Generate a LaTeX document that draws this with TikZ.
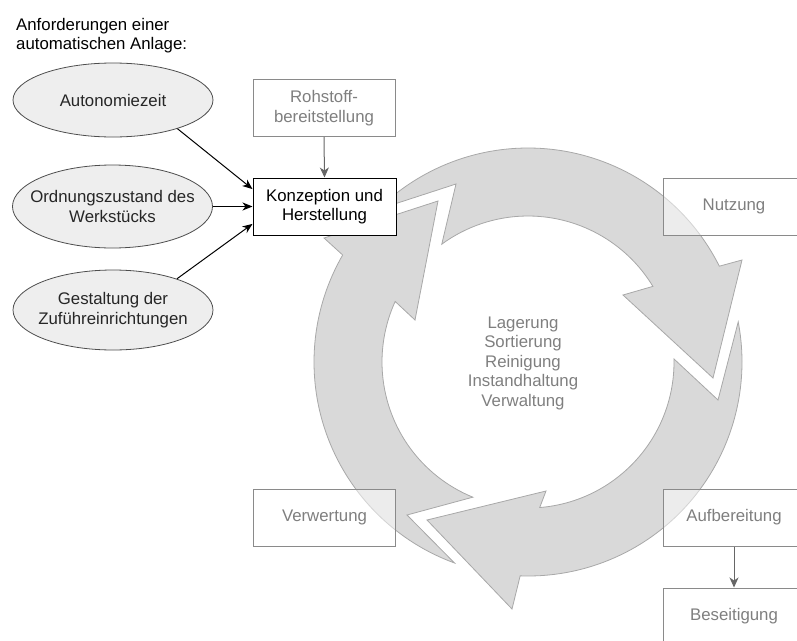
\documentclass[tikz,border=0pt]{standalone}
\usepackage{fontspec}
\setmainfont{Liberation Sans}
\usetikzlibrary{arrows.meta,shapes.geometric,calc}

\definecolor{ringfill}{HTML}{D9D9D9}
\definecolor{ringline}{HTML}{A8A8A8}
\definecolor{boxline}{HTML}{8A8A8A}
\definecolor{boxtext}{HTML}{7F7F7F}
\definecolor{reqfill}{HTML}{EEEEEE}
\definecolor{reqline}{HTML}{4D4D4D}
\definecolor{flowgray}{HTML}{666666}

\begin{document}
\begin{tikzpicture}[x=1pt,y=1pt,yscale=-1,
  font=\fontsize{16.8}{19.5}\selectfont,
  ring/.style={fill=ringfill, draw=ringline, line width=0.8pt, line join=miter},
  stage/.style={draw=boxline, line width=1pt, fill=white, fill opacity=0.5,
    text opacity=1, text=boxtext, minimum width=142pt, minimum height=57pt,
    inner sep=0pt, align=center},
  mainbox/.style={draw=black, line width=1pt, fill=white, minimum width=143pt,
    minimum height=57pt, inner sep=0pt, align=center},
  req/.style={ellipse, draw=reqline, line width=0.8pt, fill=reqfill,
    minimum width=200pt, minimum height=80pt, inner sep=0pt},
  reqtext/.style={align=center, inner sep=0pt, text=black!85},
  influence/.style={draw=black, line width=1pt,
    -{Stealth[length=10pt,width=8pt,inset=3pt]}},
  flow/.style={draw=flowgray, line width=1pt,
    -{Stealth[length=10pt,width=9pt,inset=3pt]}}
]
\useasboundingbox (0,0) rectangle (797,640);

% ---------- circular life cycle (three curved arrows) ----------
\coordinate (C) at (528,362);
% top arrow: Konzeption -> Nutzung
\path[ring] ($(C)+(-134.5:214)$) arc[start angle=-134.5, end angle=-26.6, radius=214]
  -- (742,260) -- (713,378) -- (623,295) -- ($(C)+(-31.2:146)$)
  arc[start angle=-31.2, end angle=-126.2, radius=146] -- (456,184) -- cycle;
% right/bottom arrow: Nutzung -> Verwertung
\path[ring] ($(C)+(-10.8:214)$) arc[start angle=-10.8, end angle=92.1, radius=214]
  -- (512,609) -- (427,520) -- (546,491) -- ($(C)+(85.4:146)$)
  arc[start angle=85.4, end angle=-1.2, radius=146] -- (718,400) -- cycle;
% left arrow: Verwertung -> Konzeption
\path[ring] ($(C)+(110.1:214)$) arc[start angle=110.1, end angle=210, radius=214]
  -- (324,238) -- (438,201) -- (415,320) -- ($(C)+(204.5:146)$)
  arc[start angle=204.5, end angle=112.2, radius=146] -- (407,515) -- cycle;

% ---------- activities inside the cycle ----------
\node[align=center, text=boxtext, inner sep=0pt] (care) at (523,363)
  {Lagerung\\Sortierung\\Reinigung\\Instandhaltung\\Verwaltung};

% ---------- life cycle stages ----------
\node[stage] (raw) at (324,108) {Rohstoff-\\bereitstellung};
\node[stage] (use) at (734,206.5) {Nutzung};
\node[stage] (recycle) at (324.5,517.5) {Verwertung};
\node[stage] (prep) at (734,517.5) {Aufbereitung};
\node[stage] (dispose) at (734,616.5) {Beseitigung};
\node[mainbox] (design) at (324.5,206.5) {Konzeption und\\Herstellung};

\draw[flow] (raw.south) -- (design.north);
\draw[flow] (prep.south) -- (dispose.north);

% ---------- requirements of an automatic plant ----------
\node[anchor=north west, align=left, inner sep=0pt] (title) at (16,18)
  {Anforderungen einer\\automatischen Anlage:};

\node[req, minimum height=74pt, label={[reqtext]center:Autonomiezeit}] (auto) at (113,100) {};
\node[req, minimum height=83pt, label={[reqtext]center:Ordnungszustand des\\Werkstücks}] (order) at (112.5,206.5) {};
\node[req, label={[reqtext]center:Gestaltung der\\Zuführeinrichtungen}] (feed) at (113,310) {};

\draw[influence] (auto.-24) -- ($(design.north west)!0.2!(design.south west)$);
\draw[influence] (order.east) -- (design.west);
\draw[influence] (feed.26) -- ($(design.north west)!0.8!(design.south west)$);
\end{tikzpicture}
\end{document}
